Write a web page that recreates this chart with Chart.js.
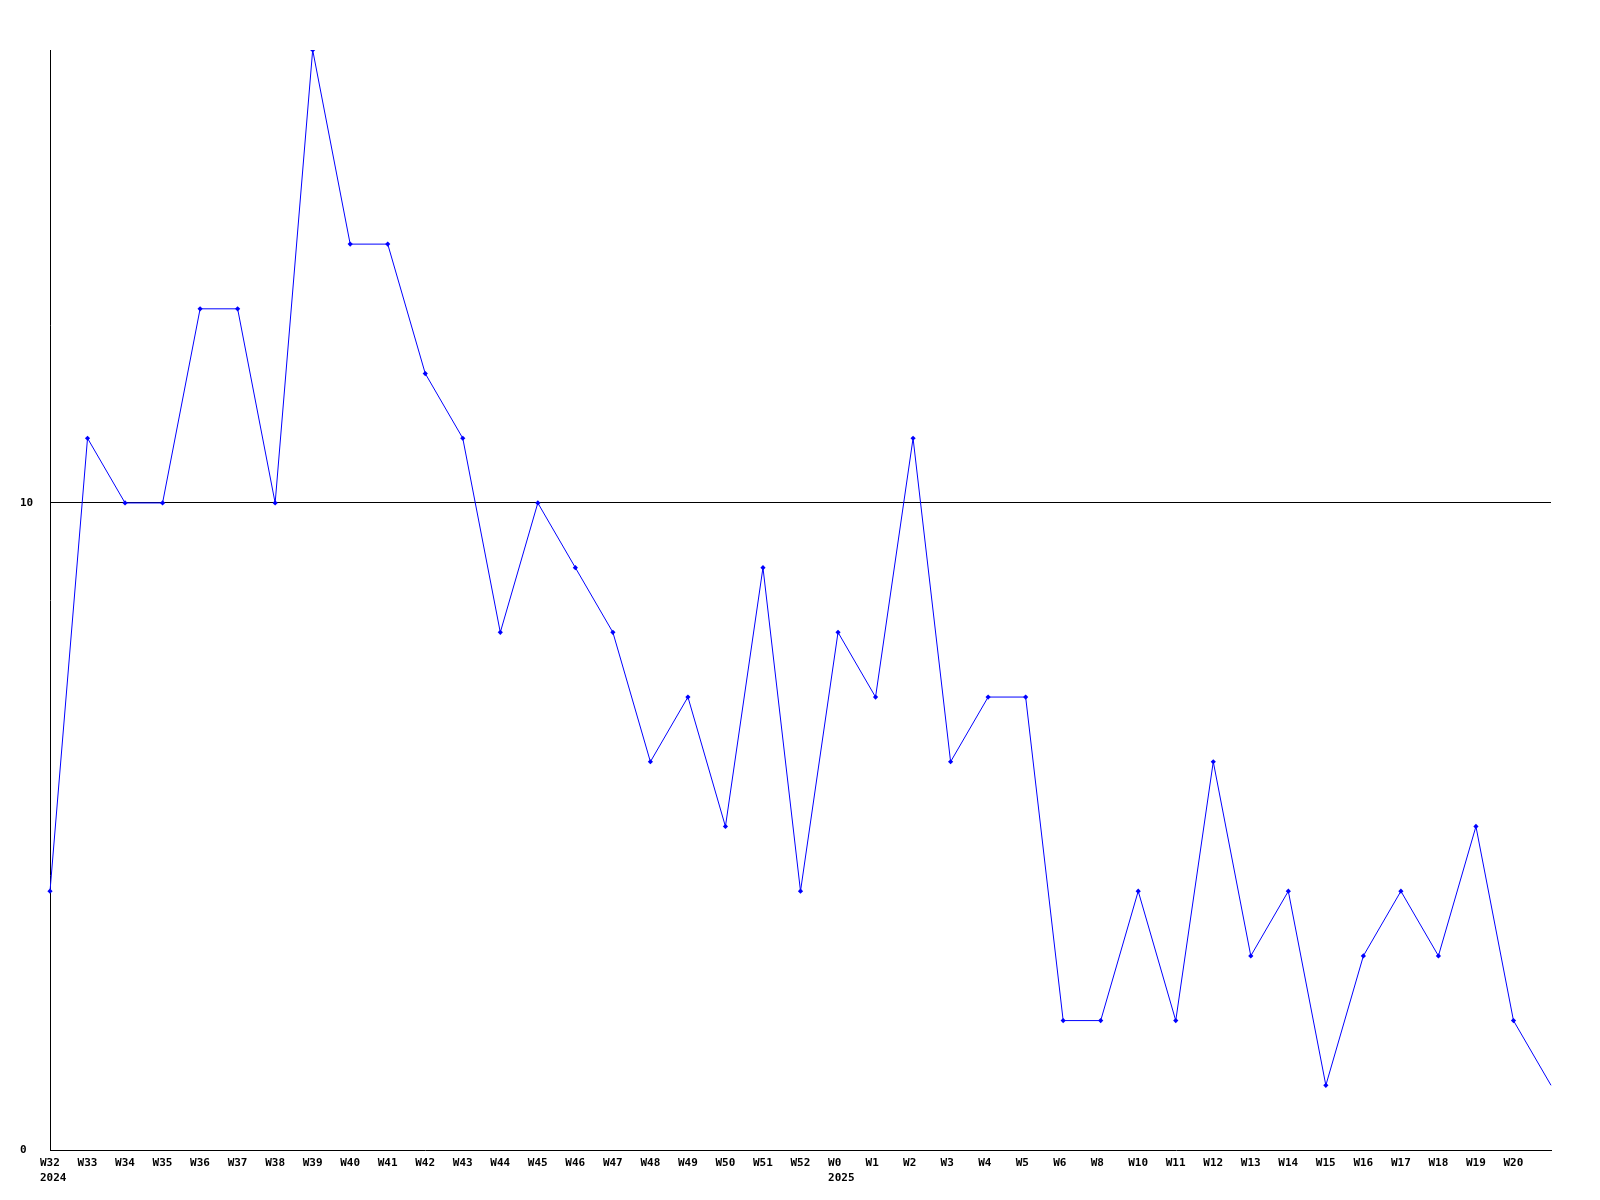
<!DOCTYPE html>
<html>
<head>
<meta charset="utf-8">
<script src="https://cdn.jsdelivr.net/npm/chart.js@4/dist/chart.umd.min.js"></script>
<style>
  html, body { margin: 0; padding: 0; background: #fff; }
  #wrap { width: 1600px; height: 1200px; }
</style>
</head>
<body>
<div id="wrap"><canvas id="chart" width="1600" height="1200"></canvas></div>
<script>
// weeks along the x axis (last point has no label)
const weeks = ['W32','W33','W34','W35','W36','W37','W38','W39','W40','W41','W42','W43','W44','W45','W46','W47','W48','W49','W50','W51','W52',
               'W0','W1','W2','W3','W4','W5','W6','W8','W10','W11','W12','W13','W14','W15','W16','W17','W18','W19','W20',''];
// year shown under the first week of each year
const years = {0: '2024', 21: '2025'};
const counts = [4,11,10,10,13,13,10,17,14,14,12,11,8,10,9,8,6,7,5,9,4,
                8,7,11,6,7,7,2,2,4,2,6,3,4,1,3,4,3,5,2,1];
const yTicks = [0, 10];
const yMax = 17;

const FONT = 'bold 11px "DejaVu Sans Mono", "Liberation Mono", monospace';

// week labels sit left aligned, a little before each point
const weekLabels = {
    id: 'weekLabels',
    afterDraw(chart) {
        const ctx = chart.ctx;
        const x = chart.scales.x;
        const bottom = chart.chartArea.bottom;
        ctx.save();
        ctx.font = FONT;
        ctx.fillStyle = '#000';
        ctx.textAlign = 'left';
        ctx.textBaseline = 'alphabetic';
        weeks.forEach((w, i) => {
            const px = x.getPixelForValue(i);
            ctx.fillText(w, px - 10, bottom + 16);
            if (years[i]) ctx.fillText(years[i], px - 10, bottom + 31);
        });
        ctx.restore();
    }
};

new Chart(document.getElementById('chart'), {
    type: 'line',
    data: {
        labels: weeks,
        datasets: [{
            data: counts,
            borderColor: '#0000ff',
            backgroundColor: '#0000ff',
            borderWidth: 1,
            tension: 0,
            fill: false,
            pointStyle: 'rectRot',
            // no marker on the trailing unlabeled point
            radius: counts.map((v, i) => i === counts.length - 1 ? 0 : 2.6),
            pointBorderWidth: 0
        }]
    },
    options: {
        responsive: false,
        animation: false,
        events: [],
        layout: { padding: { left: 20, right: 49, top: 50, bottom: 0 } },
        plugins: { legend: { display: false }, tooltip: { enabled: false } },
        scales: {
            x: {
                offset: false,
                grid: { display: false },
                border: { color: '#000', width: 1 },
                ticks: { display: false },
                afterFit(scale) { scale.height = 50; }
            },
            y: {
                min: 0,
                max: yMax,
                afterBuildTicks(scale) { scale.ticks = yTicks.map(v => ({ value: v })); },
                afterFit(scale) { scale.width = 30; },
                grid: {
                    drawTicks: false,
                    color: c => c.tick && c.tick.value === 10 ? '#000' : 'rgba(0,0,0,0)',
                    lineWidth: 1
                },
                border: { color: '#000', width: 1 },
                ticks: {
                    crossAlign: 'far',
                    padding: 0,
                    color: '#000',
                    font: { family: '"DejaVu Sans Mono", "Liberation Mono", monospace', size: 11, weight: 'bold' }
                }
            }
        }
    },
    plugins: [weekLabels]
});
</script>
</body>
</html>
